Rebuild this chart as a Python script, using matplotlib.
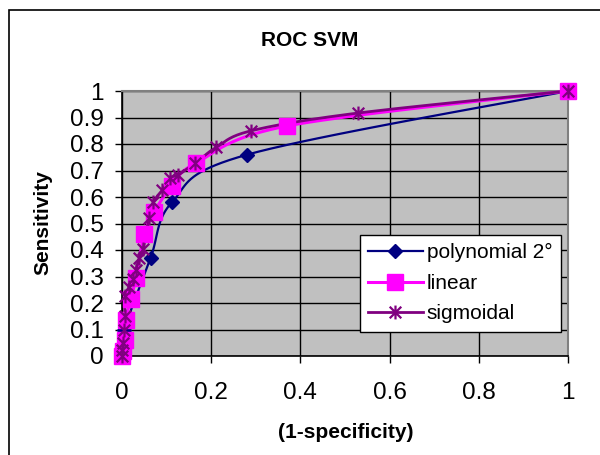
import numpy as np
import matplotlib
matplotlib.use("Agg")
import matplotlib.pyplot as plt
from matplotlib.path import Path
from matplotlib.lines import Line2D
from matplotlib.patches import Rectangle

plt.rcParams['font.family'] = ['Liberation Sans', 'DejaVu Sans']

# === Data ===
poly_fpr = [0, 0.002, 0.005, 0.064, 0.112, 0.281, 1]
poly_tpr = [0, 0.04, 0.10, 0.37, 0.58, 0.76, 1]

lin_fpr = [0, 0.003, 0.007, 0.008, 0.020, 0.031, 0.050, 0.072, 0.112, 0.166, 0.370, 1]
lin_tpr = [0, 0.02, 0.06, 0.136, 0.215, 0.293, 0.46, 0.543, 0.643, 0.728, 0.868, 1]

sig_fpr = [0, 0.001, 0.003, 0.005, 0.006, 0.007, 0.016, 0.024, 0.031, 0.039, 0.048,
           0.060, 0.070, 0.090, 0.108, 0.125, 0.164, 0.211, 0.290, 0.530, 1]
sig_tpr = [0, 0.023, 0.05, 0.10, 0.15, 0.225, 0.26, 0.29, 0.325, 0.37, 0.405,
           0.52, 0.58, 0.625, 0.672, 0.682, 0.728, 0.787, 0.85, 0.917, 1]

x_ticks = [0, 0.2, 0.4, 0.6, 0.8, 1]
x_labels = ["0", "0.2", "0.4", "0.6", "0.8", "1"]
y_ticks = [0, 0.1, 0.2, 0.3, 0.4, 0.5, 0.6, 0.7, 0.8, 0.9, 1]
y_labels = ["0", "0.1", "0.2", "0.3", "0.4", "0.5", "0.6", "0.7", "0.8", "0.9", "1"]


# === Excel-like smoothed line (Catmull-Rom) for drawing only ===
def smooth(xs, ys, n=20):
    p = np.column_stack([xs, ys]).astype(float)
    p = np.vstack([p[0], p, p[-1]])
    out = []
    t = np.linspace(0, 1, n, endpoint=False)[:, None]
    for i in range(1, len(p) - 2):
        p0, p1, p2, p3 = p[i - 1], p[i], p[i + 1], p[i + 2]
        c1 = p1 + (p2 - p0) / 6
        c2 = p2 - (p3 - p1) / 6
        seg = ((1 - t) ** 3) * p1 + 3 * ((1 - t) ** 2) * t * c1 + 3 * (1 - t) * t ** 2 * c2 + t ** 3 * p2
        out.append(seg)
    out.append(p[-2][None, :])
    s = np.vstack(out)
    return s[:, 0], s[:, 1]


asterisk = Path([(-1, -1), (1, 1), (-1, 1), (1, -1), (0, -1.2), (0, 1.2)],
                [Path.MOVETO, Path.LINETO, Path.MOVETO, Path.LINETO, Path.MOVETO, Path.LINETO])

series = [
    ("polynomial 2°", poly_fpr, poly_tpr, "#000080", 1.6, "D", 7.5, 1.0),
    ("linear", lin_fpr, lin_tpr, "#FF00FF", 2.2, "s", 11, 1.0),
    ("sigmoidal", sig_fpr, sig_tpr, "#800080", 2.0, asterisk, 10, 1.6),
]

fig = plt.figure(figsize=(6, 4.55), dpi=100)
ax = fig.add_axes([122 / 600, 1 - 356 / 455, 446 / 600, 265 / 455])
ax.set_facecolor("#C0C0C0")

handles = []
for name, xs, ys, col, lw, mk, ms, mew in series:
    sx, sy = smooth(xs, ys)
    ax.plot(sx, sy, color=col, lw=lw, clip_on=False, zorder=3)
    ax.plot(xs, ys, ls="none", marker=mk, ms=ms, mfc=col, mec=col, mew=mew,
            clip_on=False, zorder=4)
    handles.append(Line2D([], [], color=col, lw=lw, marker=mk, ms=ms, mfc=col, mec=col,
                          mew=mew, label=name))

ax.set_xlim(0, 1)
ax.set_ylim(0, 1)
ax.set_xticks(x_ticks)
ax.set_xticklabels(x_labels)
ax.set_yticks(y_ticks)
ax.set_yticklabels(y_labels)
ax.tick_params(axis="x", direction="out", length=5, width=1, pad=14, labelsize=17.5)
ax.tick_params(axis="y", direction="out", length=5, width=1, pad=8, labelsize=17.5)
ax.set_axisbelow(True)
ax.grid(True, color="black", lw=1)
for side in ["top", "right"]:
    ax.spines[side].set_color("#808080")
    ax.spines[side].set_linewidth(1.5)
for side in ["left", "bottom"]:
    ax.spines[side].set_color("black")
    ax.spines[side].set_linewidth(1.2)

fig.text(310 / 600, 1 - 40 / 455, "ROC SVM", ha="center", va="center",
         fontsize=15, fontweight="bold")
fig.text(346 / 600, 1 - 432 / 455, "(1-specificity)", ha="center", va="center",
         fontsize=15, fontweight="bold")
fig.text(43 / 600, 1 - 223 / 455, "Sensitivity", ha="center", va="center",
         rotation=90, fontsize=15, fontweight="bold")

leg = ax.legend(handles=handles, loc="upper left",
                bbox_to_anchor=(360 / 600, 1 - 235 / 455), bbox_transform=fig.transFigure,
                fontsize=15, frameon=True, fancybox=False, framealpha=1,
                edgecolor="black", handlelength=2.6, handletextpad=0.2,
                borderpad=0.4, labelspacing=0.55, borderaxespad=0)
leg.get_frame().set_linewidth(1)

# chart area border
fig.patches.append(Rectangle((9 / 600, -0.1), 2, 1.1 - 10 / 455, transform=fig.transFigure,
                             fill=False, edgecolor="black", lw=1.2))

fig.savefig("out.png", dpi=100)
